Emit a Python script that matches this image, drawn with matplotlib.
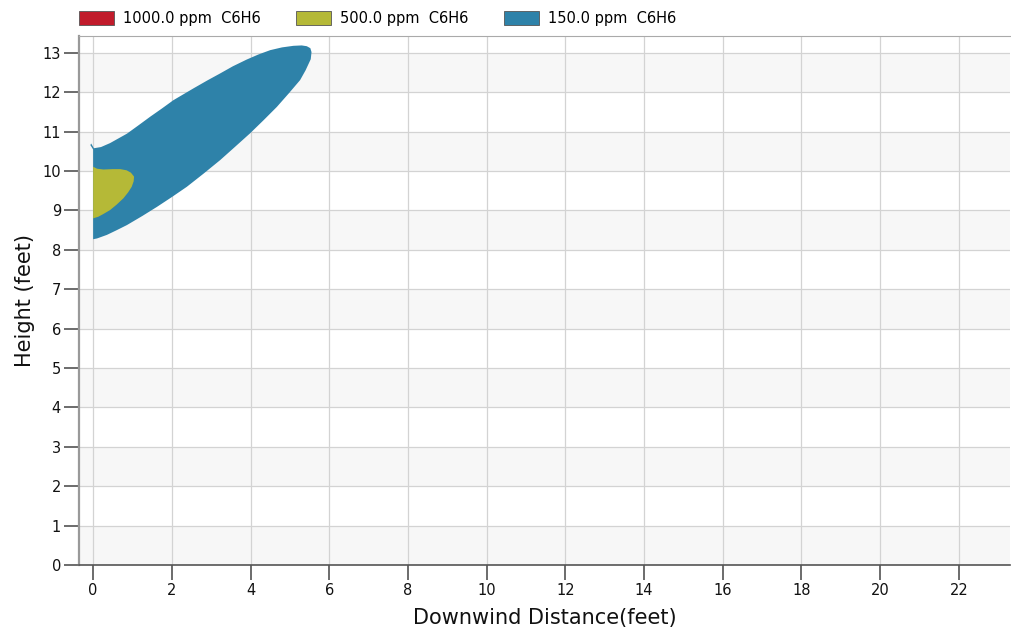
import numpy as np
import matplotlib.pyplot as plt
from matplotlib.patches import Patch

# concentration levels and footprint outlines (downwind distance, height), feet
levels = ["1000.0 ppm  C6H6", "500.0 ppm  C6H6", "150.0 ppm  C6H6"]
colors = ["#c11b2b", "#b5b937", "#2e82a9"]

plume_150_x = [0.00, -0.07, -0.05, 0.02, 0.20, 0.43, 0.86, 1.15, 1.45, 1.75,
               2.04, 2.55, 2.90, 3.23, 3.55, 3.90, 4.20, 4.50, 4.80, 5.09,
               5.30, 5.43, 5.52, 5.55, 5.53, 5.40, 5.26, 4.97, 4.67, 4.33,
               3.99, 3.60, 3.23, 2.80, 2.38, 2.00, 1.62, 1.25, 0.86, 0.60,
               0.35, 0.10, 0.00]
plume_150_y = [10.55, 10.66, 10.70, 10.58, 10.61, 10.71, 10.95, 11.16, 11.38, 11.59,
               11.80, 12.10, 12.30, 12.48, 12.66, 12.83, 12.96, 13.07, 13.14, 13.18,
               13.19, 13.17, 13.12, 13.02, 12.84, 12.56, 12.31, 11.97, 11.63, 11.29,
               10.96, 10.61, 10.28, 9.93, 9.60, 9.34, 9.09, 8.86, 8.63, 8.50,
               8.38, 8.29, 8.27]

plume_500_x = [0.00, 0.10, 0.26, 0.50, 0.69, 0.85, 0.96, 1.04, 1.03, 0.98,
               0.89, 0.77, 0.60, 0.43, 0.26, 0.13, 0.00]
plume_500_y = [10.11, 10.06, 10.04, 10.05, 10.05, 10.02, 9.96, 9.86, 9.74, 9.60,
               9.46, 9.31, 9.15, 9.01, 8.91, 8.84, 8.80]

x_ticks = np.arange(0, 23, 2)
y_ticks = np.arange(0, 14, 1)

fig = plt.figure(figsize=(10.11, 6.30), dpi=100)
ax = fig.add_axes([0.0781, 0.1032, 0.9209, 0.8397])

# alternating horizontal bands
for y0 in range(0, 13, 2):
    ax.axhspan(y0, y0 + 1, color="#f7f7f7", zorder=0, lw=0)

ax.set_xlim(-0.36, 23.3)
ax.set_ylim(0, 13.43)
ax.set_xticks(x_ticks)
ax.set_yticks(y_ticks)
ax.grid(True, color="#d3d3d3", lw=0.9, zorder=1)
ax.set_axisbelow(True)

ax.fill(plume_150_x, plume_150_y, color=colors[2], lw=0, zorder=3)
ax.fill(plume_500_x, plume_500_y, color=colors[1], lw=0, zorder=4)

ax.spines["left"].set_color("#999999")
ax.spines["left"].set_linewidth(1.6)
ax.spines["bottom"].set_color("#555555")
ax.spines["bottom"].set_linewidth(1.2)
ax.spines["top"].set_color("#aaaaaa")
ax.spines["right"].set_visible(False)
ax.tick_params(direction="out", length=11, width=1.1, color="#444444",
               labelsize=10.5, labelcolor="#111111", pad=2)

ax.set_xlabel("Downwind Distance(feet)", fontsize=15, color="#111111", labelpad=7)
ax.set_ylabel("Height (feet)", fontsize=15, color="#111111", labelpad=5)

handles = [Patch(facecolor=c, edgecolor="#555555", lw=0.6) for c in colors]
fig.legend(handles, levels, loc="upper left", bbox_to_anchor=(0.065, 1.004),
           ncol=3, frameon=False, fontsize=10.5, handlelength=2.4,
           handleheight=1.15, columnspacing=2.45, handletextpad=0.6)

fig.savefig("out.png", dpi=100)
